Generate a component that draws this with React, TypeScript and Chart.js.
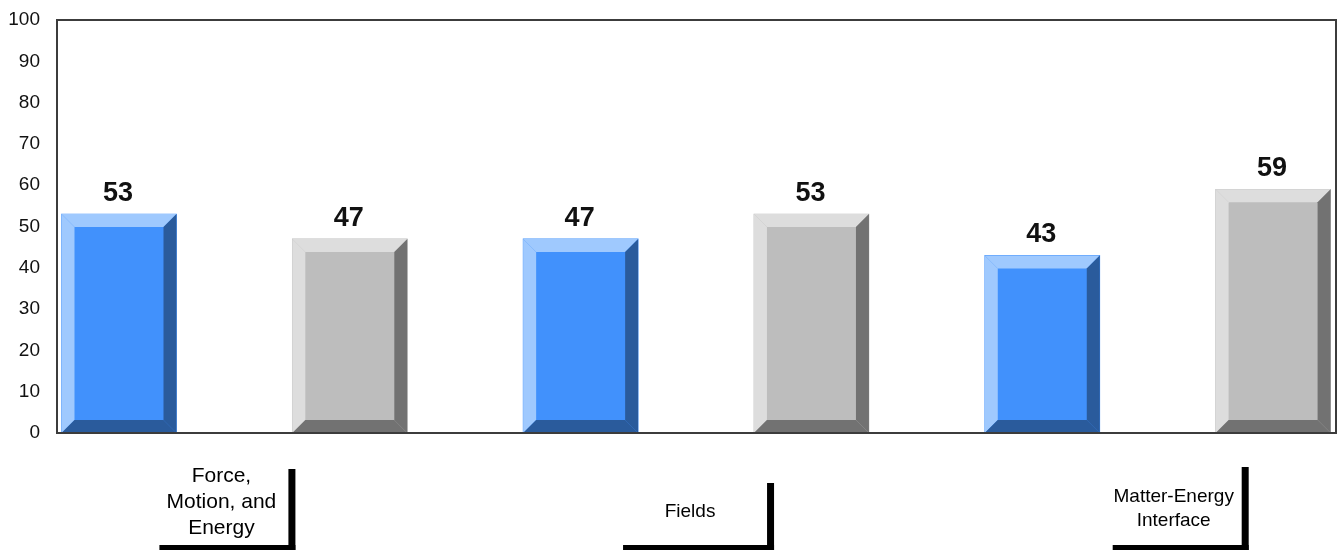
import React, { useEffect, useRef } from "react";
import { Chart, registerables } from "chart.js";
Chart.register(...registerables);

// ---- data ----
const categories: string[][] = [
  ["Force,", "Motion, and", "Energy"],
  ["Fields"],
  ["Matter-Energy", "Interface"],
];
const seriesBlue = [53, 47, 43];
const seriesGray = [47, 53, 59];
const yMin = 0;
const yMax = 100;
const yStep = 10;

// ---- styles ----
const FONT = "'Liberation Sans', Arial, sans-serif";
const blueColors = { face: "#4191fc", light: "#9fc9fe", dark: "#2a5b9c" };
const grayColors = { face: "#bdbdbd", light: "#dddddd", dark: "#727272" };
const BEVEL = 13;
// per-category label bracket layout relative to group centre
const labelLayout = [
  { textDx: -13, left: -75, right: 57, top: 469, size: 21, lineH: 26, firstY: 476 },
  { textDx: -6, left: -73, right: 74, top: 483, size: 19, lineH: 26, firstY: 512 },
  { textDx: 16, left: -45, right: 87, top: 467, size: 19, lineH: 24, firstY: 497 },
];

const bevelPlugin = {
  id: "bevel",
  afterDatasetsDraw(chart: any) {
    const ctx = chart.ctx;
    chart.data.datasets.forEach((ds: any, di: number) => {
      const meta = chart.getDatasetMeta(di);
      const cols = ds._cols;
      meta.data.forEach((bar: any, i: number) => {
        const { x, y, base, width } = bar.getProps(["x", "y", "base", "width"], true);
        const l = x - width / 2, r = x + width / 2, t = y, b = base, k = BEVEL;
        const poly = (pts: number[][], c: string) => {
          ctx.beginPath();
          ctx.moveTo(pts[0][0], pts[0][1]);
          for (let j = 1; j < pts.length; j++) ctx.lineTo(pts[j][0], pts[j][1]);
          ctx.closePath();
          ctx.fillStyle = c;
          ctx.fill();
        };
        ctx.save();
        poly([[l, t], [r, t], [r - k, t + k], [l + k, t + k]], cols.light);
        poly([[l, t], [l + k, t + k], [l + k, b - k], [l, b]], cols.light);
        poly([[r, t], [r, b], [r - k, b - k], [r - k, t + k]], cols.dark);
        poly([[l, b], [r, b], [r - k, b - k], [l + k, b - k]], cols.dark);
        // value label
        ctx.fillStyle = "#111";
        ctx.font = `bold 27px ${FONT}`;
        ctx.textAlign = "center";
        ctx.textBaseline = "alphabetic";
        ctx.fillText(String(ds.data[i].y), x - 1, t - 13);
        ctx.restore();
      });
    });
  },
};

const framePlugin = {
  id: "frame",
  afterDraw(chart: any) {
    const { ctx, chartArea: a, scales } = chart;
    ctx.save();
    ctx.strokeStyle = "#3c3c3c";
    ctx.lineWidth = 2;
    ctx.strokeRect(a.left, a.top, a.right - a.left, a.bottom - a.top);
    // category labels with bracket
    const xs = scales.x;
    categories.forEach((lines, i) => {
      const cx = xs.getPixelForValue(2 * i + 0.5);
      const L = labelLayout[i];
      ctx.fillStyle = "#000";
      ctx.font = `${L.size}px ${FONT}`;
      ctx.textAlign = "center";
      ctx.textBaseline = "middle";
      lines.forEach((ln, j) => ctx.fillText(ln, cx + L.textDx, L.firstY + j * L.lineH));
      ctx.fillRect(cx + L.right - 3, L.top, 7, 550 - L.top);
      ctx.fillRect(cx + L.left, 545, L.right - L.left + 4, 5);
    });
    ctx.restore();
  },
};

export default function App() {
  const ref = useRef<HTMLCanvasElement>(null);
  useEffect(() => {
    document.body.style.margin = "0";
    const blueData = seriesBlue.map((v, i) => ({ x: 2 * i, y: v }));
    const grayData = seriesGray.map((v, i) => ({ x: 2 * i + 1, y: v }));
    const chart = new Chart(ref.current!, {
      type: "bar",
      data: {
        datasets: [
          { label: "A", data: blueData, backgroundColor: blueColors.face, _cols: blueColors } as any,
          { label: "B", data: grayData, backgroundColor: grayColors.face, _cols: grayColors } as any,
        ],
      },
      options: {
        animation: false,
        responsive: false,
        devicePixelRatio: 1,
        layout: { padding: { left: 0, top: 20, right: 3, bottom: 117 } },
        datasets: { bar: { grouped: false, barThickness: 115, borderWidth: 0 } as any },
        plugins: { legend: { display: false }, tooltip: { enabled: false } },
        scales: {
          x: { type: "linear", min: -0.2686, max: 5.2725, offset: false, display: false, grid: { offset: false } },
          y: {
            min: yMin,
            max: yMax,
            afterFit: (s: any) => { s.width = 57; s.paddingTop = 0; s.paddingBottom = 0; },
            ticks: { stepSize: yStep, color: "#111", font: { size: 19, family: FONT }, padding: 17 },
            grid: { display: false, drawTicks: false },
            border: { display: false },
          },
        },
      },
      plugins: [bevelPlugin, framePlugin],
    });
    return () => chart.destroy();
  }, []);
  return (
    <div style={{ position: "absolute", left: 0, top: 0, width: 1339, height: 550, background: "#fff" }}>
      <canvas ref={ref} width={1339} height={550} style={{ display: "block" }} />
    </div>
  );
}
